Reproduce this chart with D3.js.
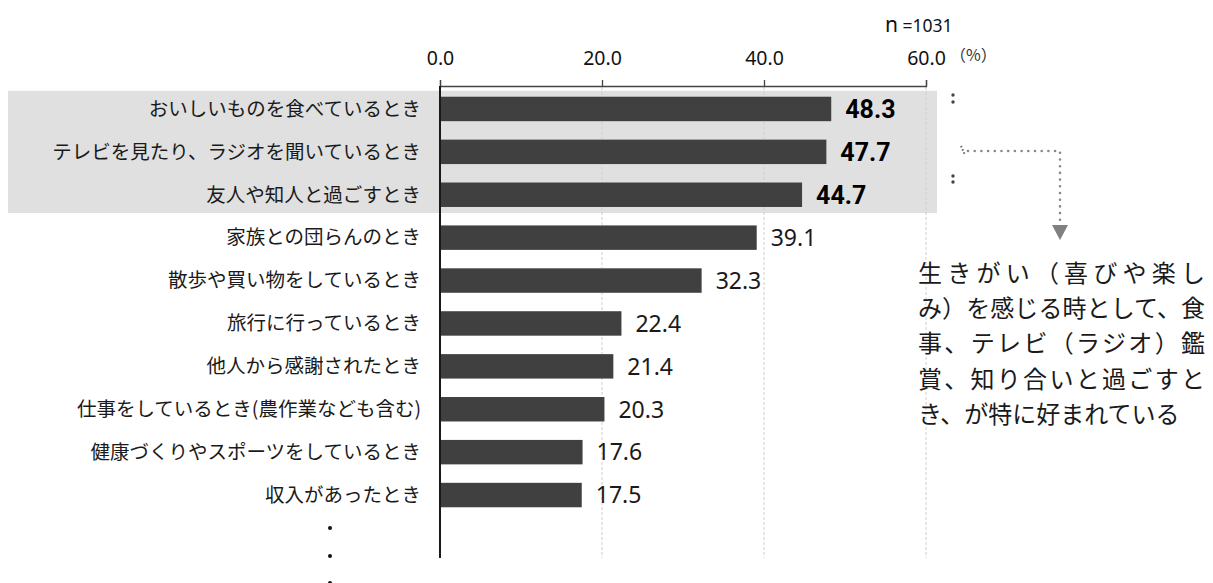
<!DOCTYPE html>
<html><head><meta charset="utf-8">
<script src="https://cdn.jsdelivr.net/npm/d3@7"></script>
<style>
html,body{margin:0;padding:0;background:#fff;}
svg{display:block;}
</style></head>
<body>
<svg id="chart" width="1213" height="583"></svg>
<script>
const categories = [
  "おいしいものを食べているとき",
  "テレビを見たり、ラジオを聞いているとき",
  "友人や知人と過ごすとき",
  "家族との団らんのとき",
  "散歩や買い物をしているとき",
  "旅行に行っているとき",
  "他人から感謝されたとき",
  "仕事をしているとき(農作業なども含む)",
  "健康づくりやスポーツをしているとき",
  "収入があったとき"
];
const values = [48.3, 47.7, 44.7, 39.1, 32.3, 22.4, 21.4, 20.3, 17.6, 17.5];
const highlighted = [true, true, true, false, false, false, false, false, false, false];
const tickValues = [0, 20, 40, 60];
const sampleLetter = "n";
const sampleValue = " =1031";
const unitLabel = "（%）";
const noteLines = [
  "生きがい（喜びや楽し",
  "み）を感じる時として、食",
  "事、テレビ（ラジオ）鑑",
  "賞、知り合いと過ごすと",
  "き、が特に好まれている"
];

const svg = d3.select("#chart");
const jp = "'Noto Sans CJK JP', 'Noto Sans', sans-serif";

const x = d3.scaleLinear().domain([0, 60]).range([440, 926]);
const y = d3.scaleBand().domain(categories).range([87.5, 516.5]).paddingInner(0.43).paddingOuter(0.215);

// highlight background
const hi = categories.filter((c, i) => highlighted[i]);
svg.append("rect")
  .attr("x", 8).attr("width", 929)
  .attr("y", y(hi[0]) - 6)
  .attr("height", y(hi[hi.length - 1]) + y.bandwidth() + 10 - y(hi[0]) + 2)
  .attr("fill", "#e0e0e0");

// gridlines
svg.append("g").selectAll("line").data(tickValues.filter(t => t > 0)).join("line")
  .attr("x1", d => x(d)).attr("x2", d => x(d))
  .attr("y1", 87).attr("y2", 558)
  .attr("stroke", "#cfcfcf").attr("stroke-width", 1).attr("stroke-dasharray", "3 2");

// top axis
const axis = d3.axisTop(x).tickValues(tickValues).tickFormat(d3.format(".1f")).tickSize(6).tickPadding(15);
const ag = svg.append("g").attr("transform", "translate(0,86)").call(axis);
ag.select(".domain").attr("stroke", "#444").attr("stroke-width", 1.3);
ag.selectAll(".tick line").attr("stroke", "#444").attr("stroke-width", 1.3);
ag.selectAll(".tick text").attr("fill", "#111").attr("font-size", 19.5).attr("font-family", "'Noto Sans', 'DejaVu Sans', sans-serif");

// bars
svg.append("g").selectAll("rect").data(values).join("rect")
  .attr("x", x(0))
  .attr("y", (d, i) => y(categories[i]))
  .attr("width", d => x(d) - x(0))
  .attr("height", y.bandwidth())
  .attr("fill", "#404040");

// vertical axis line
svg.append("line").attr("x1", x(0)).attr("x2", x(0)).attr("y1", 86).attr("y2", 558)
  .attr("stroke", "#1a1a1a").attr("stroke-width", 2);

// category labels
svg.append("g").selectAll("text").data(categories).join("text")
  .attr("x", 421)
  .attr("y", d => y(d) + y.bandwidth() / 2)
  .attr("dy", "0.35em")
  .attr("text-anchor", "end")
  .attr("font-family", jp).attr("font-size", 19.5).attr("fill", "#1a1a1a")
  .text(d => d);

// value labels
svg.append("g").selectAll("text").data(values).join("text")
  .attr("x", d => x(d) + 14)
  .attr("y", (d, i) => y(categories[i]) + y.bandwidth() / 2)
  .attr("dy", "0.36em")
  .attr("font-family", (d, i) => highlighted[i] ? "Roboto, Arial, sans-serif" : "'Noto Sans', 'DejaVu Sans', sans-serif")
  .attr("font-weight", (d, i) => highlighted[i] ? "bold" : "normal")
  .attr("font-size", (d, i) => highlighted[i] ? 25 : 23)
  .attr("fill", (d, i) => highlighted[i] ? "#000" : "#1a1a1a")
  .text(d => d.toFixed(1));

// n and unit
const nt = svg.append("text").attr("x", 885).attr("y", 32)
  .attr("font-family", "'Noto Sans', sans-serif").attr("fill", "#111");
nt.append("tspan").attr("font-size", 21).text(sampleLetter);
nt.append("tspan").attr("font-size", 17.5).text(sampleValue);
svg.append("text").attr("x", 950).attr("y", 55).attr("dy", "0.35em")
  .attr("font-family", jp).attr("font-size", 16).attr("fill", "#333").text(unitLabel);

// continuation dots under labels
svg.append("g").selectAll("circle").data([528, 556, 583]).join("circle")
  .attr("cx", 330).attr("cy", d => d).attr("r", 2).attr("fill", "#111");

// right-side colon marks
svg.append("g").selectAll("circle").data([95, 102, 176, 182]).join("circle")
  .attr("cx", 953).attr("cy", d => d).attr("r", 1.7).attr("fill", "#444");

// connector
svg.append("line").attr("x1", 961).attr("y1", 146).attr("x2", 965).attr("y2", 155)
  .attr("stroke", "#666").attr("stroke-width", 2).attr("stroke-dasharray", "1.5 2");
svg.append("path").attr("d", "M968,151 H1060 V221")
  .attr("fill", "none").attr("stroke", "#888").attr("stroke-width", 2.6)
  .attr("stroke-linecap", "round").attr("stroke-dasharray", "0 6.7");
svg.append("path").attr("d", "M1052,225 L1068,225 L1060,240 Z").attr("fill", "#808080");

// annotation
const note = svg.append("g");
noteLines.forEach((t, i) => {
  const el = note.append("text")
    .attr("x", 918).attr("y", 273 + i * 35.3).attr("dy", "0.36em")
    .attr("font-family", jp).attr("font-size", 24).attr("fill", "#1a1a1a")
    .text(t);
  if (i < noteLines.length - 1) el.attr("textLength", 287).attr("lengthAdjust", "spacing");
});
</script>
</body></html>
